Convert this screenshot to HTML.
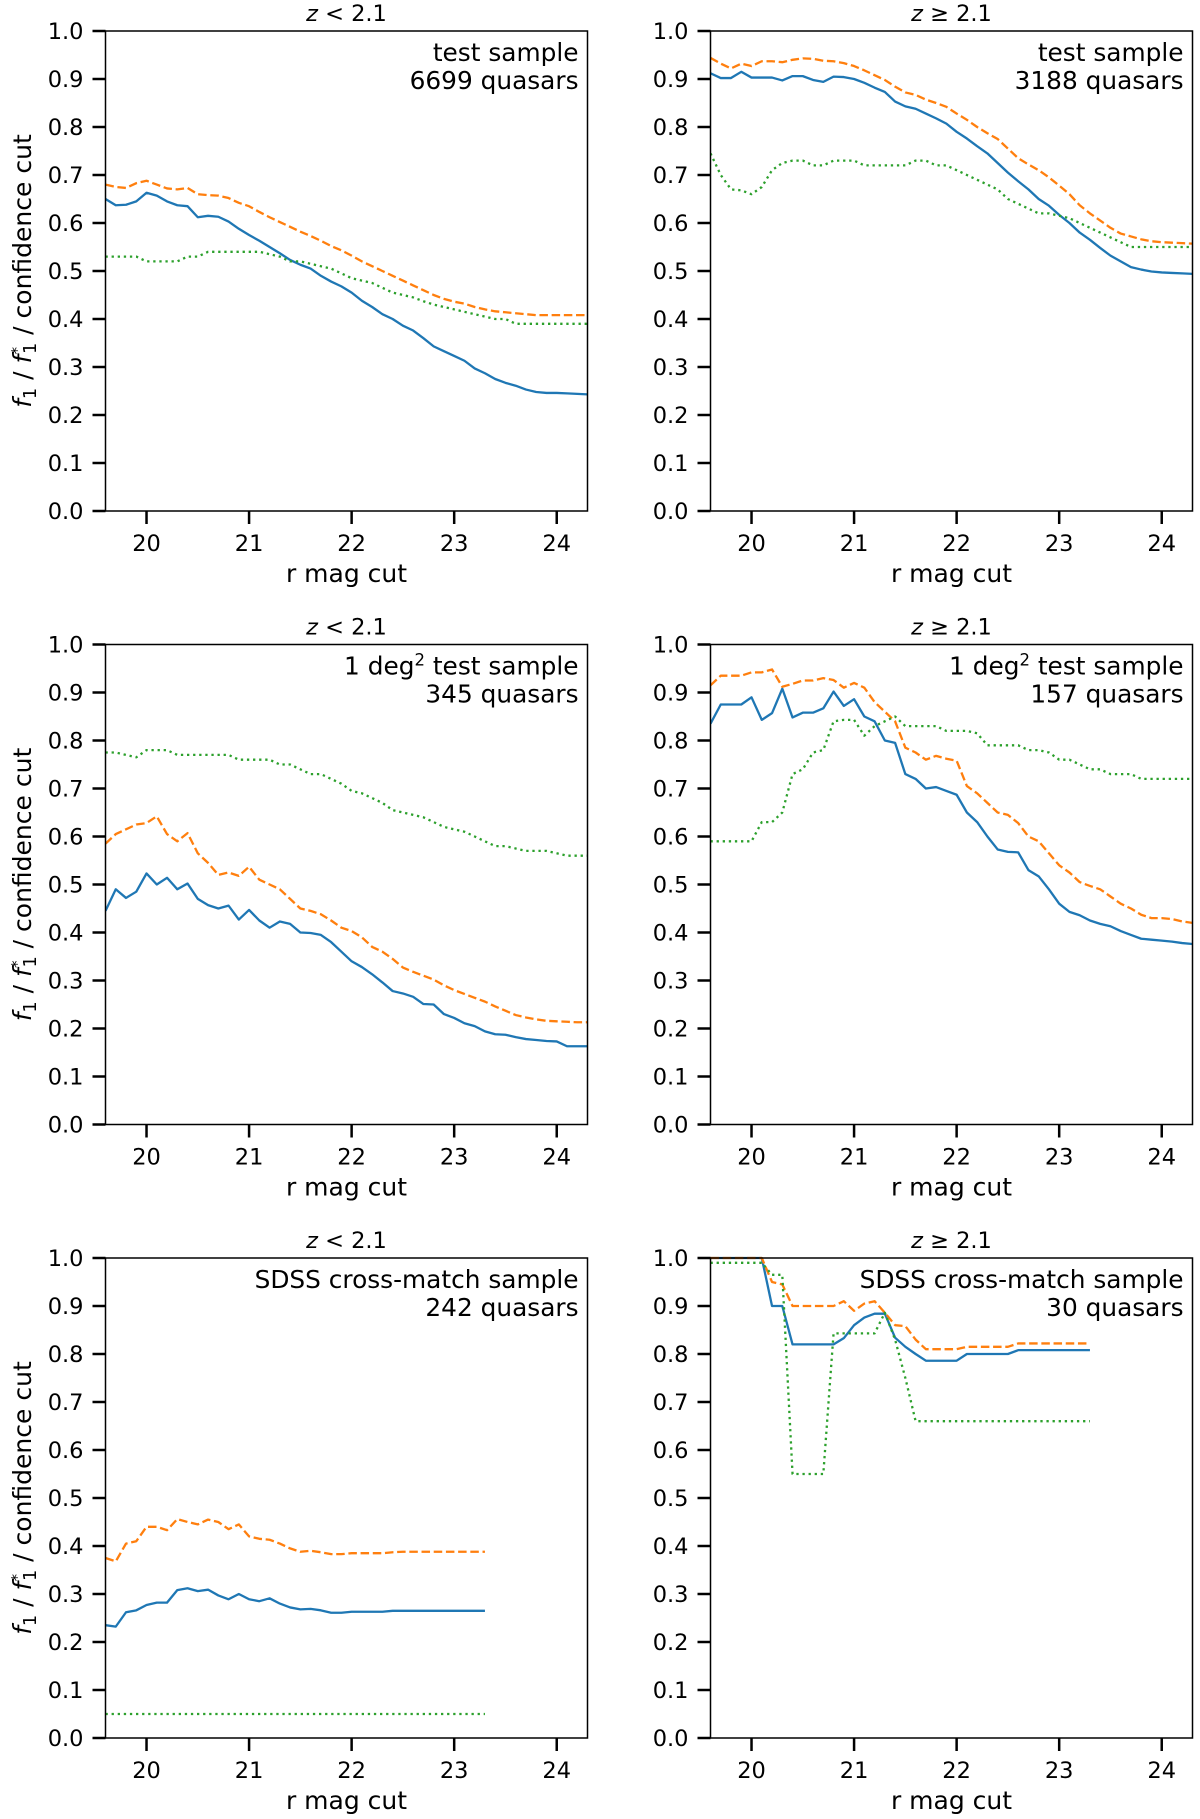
<!DOCTYPE html>
<html><head><meta charset="utf-8"><style>
html,body{margin:0;padding:0;background:#fff;}
svg{display:block;font-family:"DejaVu Sans","Liberation Sans",sans-serif;}
</style></head><body>
<svg id="fig" width="1200" height="1819" viewBox="0 0 1200 1819" xmlns="http://www.w3.org/2000/svg"></svg>
<script>
const xStart = 19.6;
const xStep = 0.1;
const xTicks = [20, 21, 22, 23, 24];
const yTicks = [0.0, 0.1, 0.2, 0.3, 0.4, 0.5, 0.6, 0.7, 0.8, 0.9, 1.0];

const p1Blue = [0.65,0.637,0.638,0.645,0.663,0.657,0.645,0.637,0.635,0.612,0.615,0.613,0.603,0.588,0.575,0.563,0.55,0.537,0.523,0.513,0.505,0.49,0.478,0.468,0.455,0.438,0.425,0.41,0.4,0.386,0.376,0.36,0.343,0.333,0.323,0.313,0.297,0.287,0.275,0.267,0.261,0.253,0.248,0.246,0.246,0.245,0.244,0.243];
const p1Orange = [0.68,0.675,0.673,0.683,0.688,0.68,0.672,0.67,0.673,0.66,0.658,0.657,0.652,0.642,0.635,0.623,0.612,0.602,0.592,0.582,0.573,0.563,0.552,0.543,0.532,0.52,0.51,0.5,0.49,0.48,0.47,0.46,0.45,0.442,0.436,0.432,0.425,0.42,0.416,0.414,0.412,0.41,0.408,0.408,0.408,0.408,0.408,0.408];
const p1Green = [0.53,0.53,0.53,0.53,0.52,0.52,0.52,0.52,0.53,0.53,0.54,0.54,0.54,0.54,0.54,0.54,0.535,0.53,0.52,0.52,0.515,0.51,0.505,0.495,0.485,0.48,0.475,0.465,0.455,0.45,0.445,0.437,0.43,0.425,0.42,0.415,0.41,0.405,0.4,0.4,0.39,0.39,0.39,0.39,0.39,0.39,0.39,0.39];

const p2Blue = [0.912,0.902,0.902,0.915,0.903,0.903,0.903,0.897,0.906,0.906,0.898,0.894,0.905,0.904,0.9,0.892,0.882,0.873,0.853,0.843,0.838,0.828,0.818,0.807,0.79,0.776,0.76,0.745,0.725,0.705,0.687,0.67,0.65,0.636,0.617,0.6,0.58,0.565,0.548,0.532,0.52,0.508,0.503,0.499,0.497,0.496,0.495,0.494];
const p2Orange = [0.944,0.932,0.922,0.932,0.927,0.937,0.937,0.935,0.94,0.943,0.942,0.938,0.937,0.933,0.927,0.918,0.908,0.898,0.884,0.872,0.867,0.857,0.85,0.842,0.828,0.815,0.8,0.787,0.775,0.755,0.735,0.722,0.71,0.695,0.678,0.66,0.637,0.62,0.605,0.59,0.578,0.572,0.566,0.562,0.56,0.559,0.558,0.557];
const p2Green = [0.745,0.7,0.67,0.668,0.66,0.675,0.71,0.725,0.73,0.73,0.72,0.72,0.73,0.73,0.73,0.72,0.72,0.72,0.72,0.72,0.73,0.73,0.72,0.72,0.71,0.7,0.69,0.68,0.67,0.65,0.64,0.63,0.62,0.62,0.615,0.61,0.6,0.59,0.58,0.57,0.56,0.55,0.55,0.55,0.55,0.55,0.55,0.55];

const p3Blue = [0.445,0.49,0.472,0.485,0.523,0.5,0.514,0.49,0.502,0.47,0.457,0.45,0.456,0.427,0.447,0.425,0.41,0.423,0.418,0.4,0.399,0.395,0.38,0.36,0.34,0.328,0.313,0.296,0.278,0.273,0.266,0.251,0.25,0.23,0.222,0.211,0.205,0.194,0.188,0.187,0.182,0.178,0.176,0.174,0.173,0.163,0.163,0.163];
const p3Orange = [0.585,0.605,0.615,0.625,0.628,0.642,0.605,0.59,0.607,0.565,0.545,0.52,0.525,0.518,0.537,0.51,0.5,0.49,0.47,0.45,0.445,0.438,0.425,0.41,0.403,0.39,0.37,0.36,0.345,0.327,0.318,0.31,0.302,0.29,0.28,0.272,0.264,0.256,0.246,0.237,0.228,0.223,0.219,0.216,0.215,0.214,0.213,0.213];
const p3Green = [0.775,0.775,0.77,0.765,0.78,0.78,0.78,0.77,0.77,0.77,0.77,0.77,0.77,0.76,0.76,0.76,0.76,0.75,0.75,0.74,0.73,0.73,0.72,0.71,0.695,0.69,0.68,0.67,0.655,0.65,0.645,0.64,0.63,0.62,0.615,0.61,0.6,0.59,0.58,0.58,0.575,0.57,0.57,0.57,0.565,0.56,0.56,0.56];

const p4Blue = [0.835,0.875,0.875,0.875,0.89,0.843,0.857,0.908,0.848,0.858,0.858,0.867,0.902,0.872,0.886,0.85,0.84,0.8,0.795,0.73,0.72,0.7,0.703,0.695,0.687,0.65,0.63,0.6,0.573,0.568,0.567,0.53,0.517,0.49,0.46,0.443,0.436,0.425,0.418,0.413,0.403,0.395,0.387,0.385,0.383,0.381,0.378,0.376];
const p4Orange = [0.915,0.935,0.935,0.935,0.942,0.942,0.948,0.912,0.918,0.925,0.925,0.93,0.926,0.91,0.92,0.91,0.88,0.86,0.84,0.785,0.775,0.76,0.768,0.762,0.758,0.705,0.69,0.67,0.65,0.645,0.628,0.6,0.59,0.565,0.54,0.525,0.505,0.497,0.49,0.475,0.46,0.45,0.437,0.43,0.43,0.428,0.423,0.42];
const p4Green = [0.59,0.59,0.59,0.59,0.59,0.63,0.63,0.65,0.73,0.74,0.775,0.78,0.84,0.843,0.843,0.81,0.83,0.84,0.85,0.83,0.83,0.83,0.83,0.82,0.82,0.82,0.815,0.79,0.79,0.79,0.79,0.78,0.78,0.775,0.76,0.76,0.75,0.74,0.74,0.73,0.73,0.73,0.72,0.72,0.72,0.72,0.72,0.72];

const p5Blue = [0.235,0.232,0.262,0.266,0.277,0.282,0.282,0.308,0.312,0.306,0.309,0.297,0.289,0.3,0.289,0.285,0.291,0.28,0.272,0.268,0.269,0.266,0.261,0.261,0.263,0.263,0.263,0.263,0.265,0.265,0.265,0.265,0.265,0.265,0.265,0.265,0.265,0.265];
const p5Orange = [0.375,0.368,0.405,0.41,0.44,0.44,0.433,0.456,0.45,0.445,0.455,0.45,0.435,0.445,0.42,0.415,0.413,0.405,0.395,0.388,0.39,0.387,0.383,0.383,0.385,0.385,0.385,0.385,0.387,0.388,0.388,0.388,0.388,0.388,0.388,0.388,0.388,0.388];
const p5Green = [0.05,0.05,0.05,0.05,0.05,0.05,0.05,0.05,0.05,0.05,0.05,0.05,0.05,0.05,0.05,0.05,0.05,0.05,0.05,0.05,0.05,0.05,0.05,0.05,0.05,0.05,0.05,0.05,0.05,0.05,0.05,0.05,0.05,0.05,0.05,0.05,0.05,0.05];

const p6Blue = [1.0,1.0,1.0,1.0,1.0,1.0,0.9,0.9,0.82,0.82,0.82,0.82,0.82,0.833,0.86,0.876,0.884,0.884,0.834,0.815,0.8,0.786,0.786,0.786,0.786,0.8,0.8,0.8,0.8,0.8,0.808,0.808,0.808,0.808,0.808,0.808,0.808,0.808];
const p6Orange = [1.0,1.0,1.0,1.0,1.0,1.0,0.95,0.945,0.9,0.9,0.9,0.9,0.9,0.91,0.89,0.905,0.91,0.886,0.86,0.858,0.83,0.81,0.81,0.81,0.81,0.815,0.815,0.815,0.815,0.815,0.822,0.822,0.822,0.822,0.822,0.822,0.822,0.822];
const p6Green = [0.99,0.99,0.99,0.99,0.99,0.99,0.965,0.965,0.55,0.55,0.55,0.55,0.843,0.843,0.843,0.843,0.843,0.886,0.83,0.75,0.66,0.66,0.66,0.66,0.66,0.66,0.66,0.66,0.66,0.66,0.66,0.66,0.66,0.66,0.66,0.66,0.66,0.66];

const titles = ["lt","ge","lt","ge","lt","ge"];
const annotLine1 = ["test sample","test sample","1 deg|2| test sample","1 deg|2| test sample","SDSS cross-match sample","SDSS cross-match sample"];
const annotLine2 = ["6699 quasars","3188 quasars","345 quasars","157 quasars","242 quasars","30 quasars"];

const NS = "http://www.w3.org/2000/svg";
const svg = document.getElementById("fig");
function mk(tag, attrs, parent){const e=document.createElementNS(NS,tag);for(const k in attrs)e.setAttribute(k,attrs[k]);(parent||svg).appendChild(e);return e;}

const colX = [105.5, 710.5], rowY = [31, 644.5, 1258], W = 482, H = 480;
const xMin = 19.6, xMax = 24.3;
const panels = [
  [p1Blue,p1Orange,p1Green],[p2Blue,p2Orange,p2Green],
  [p3Blue,p3Orange,p3Green],[p4Blue,p4Orange,p4Green],
  [p5Blue,p5Orange,p5Green],[p6Blue,p6Orange,p6Green]
];
const styles = [
  {c:"#1f77b4", d:null, n:"blue-solid-line"},
  {c:"#ff7f0e", d:"8.5 3.7", n:"orange-dashed-line"},
  {c:"#2ca02c", d:"2.3 3.8", n:"green-dotted-line"}
];

panels.forEach((series, i) => {
  const L = colX[i%2], T = rowY[Math.floor(i/2)];
  const sx = v => L + (v - xMin) / (xMax - xMin) * W;
  const sy = v => T + H - v * H;
  const g = mk("g", {});
  
  
  const clipId = "clip" + i;
  const cp = mk("clipPath", {id: clipId}, g);
  mk("rect", {x:L, y:T-2, width:W, height:H+4}, cp);
  series.forEach((arr, s) => {
    const pts = arr.map((v, k) => sx(xStart + k*xStep).toFixed(2) + "," + sy(v).toFixed(2)).join(" ");
    const pl = mk("polyline", {points:pts, fill:"none", stroke:styles[s].c, "stroke-width":2.3, "clip-path":"url(#"+clipId+")", "stroke-linejoin":"round"}, g);
    if (styles[s].d) pl.setAttribute("stroke-dasharray", styles[s].d);
    
    
  });
  const fr = mk("rect", {x:L, y:T, width:W, height:H, fill:"none", stroke:"#000", "stroke-width":1.5}, g);
  
  
  yTicks.forEach(v => {
    mk("line", {x1:L-13, x2:L, y1:sy(v), y2:sy(v), stroke:"#000", "stroke-width":2.5}, g);
    const t = mk("text", {x:L-22, y:sy(v)+8, "text-anchor":"end", "font-size":22.5, fill:"#000"}, g);
    t.textContent = v.toFixed(1);
    
    
  });
  xTicks.forEach(v => {
    mk("line", {x1:sx(v), x2:sx(v), y1:T+H, y2:T+H+13, stroke:"#000", "stroke-width":2.5}, g);
    const t = mk("text", {x:sx(v), y:T+H+40, "text-anchor":"middle", "font-size":22.5, fill:"#000"}, g);
    t.textContent = String(v);
    
    
  });
  const xl = mk("text", {x:L+W/2, y:T+H+71, "text-anchor":"middle", "font-size":25, fill:"#000"}, g);
  xl.textContent = "r mag cut";
  
  
  const tt = mk("text", {x:L+W/2, y:T-10, "text-anchor":"middle", "font-size":22.5, fill:"#000"}, g);
  
  
  const tz = mk("tspan", {"font-style":"italic"}, tt); tz.textContent = "z";
  const tr = mk("tspan", {}, tt); tr.textContent = titles[i] === "lt" ? " < 2.1" : " ≥ 2.1";
  const a1 = mk("text", {x:L+W-9, y:T+30, "text-anchor":"end", "font-size":24.8, fill:"#000"}, g);
  
  
  const parts = annotLine1[i].split("|");
  const s0 = mk("tspan", {}, a1); s0.textContent = parts[0];
  if (parts.length > 1) {
    const s1 = mk("tspan", {dy:-9, "font-size":16.5}, a1); s1.textContent = parts[1];
    const s2 = mk("tspan", {dy:9}, a1); s2.textContent = parts[2];
  }
  const a2 = mk("text", {x:L+W-9, y:T+58, "text-anchor":"end", "font-size":24.8, fill:"#000"}, g);
  a2.textContent = annotLine2[i];
  
  
  if (i % 2 === 0) {
    const cy = T + H/2;
    const yl = mk("text", {x:0, y:0, transform:"translate(31,"+cy+") rotate(-90)", "text-anchor":"middle", "font-size":25, fill:"#000"}, g);
    
    
    const f1 = mk("tspan", {"font-style":"italic"}, yl); f1.textContent = "f";
    const f1s = mk("tspan", {dy:5, "font-size":17.5}, yl); f1s.textContent = "1";
    const sl = mk("tspan", {dy:-5}, yl); sl.textContent = " / ";
    const f2 = mk("tspan", {"font-style":"italic"}, yl); f2.textContent = "f";
    const st = mk("tspan", {dy:-9, "font-size":15.5}, yl); st.textContent = "*";
    const f2s = mk("tspan", {dx:-7, dy:14, "font-size":17.5}, yl); f2s.textContent = "1";
    const rest = mk("tspan", {dy:-5}, yl); rest.textContent = " / confidence cut";
  }
});
</script>
</body></html>
